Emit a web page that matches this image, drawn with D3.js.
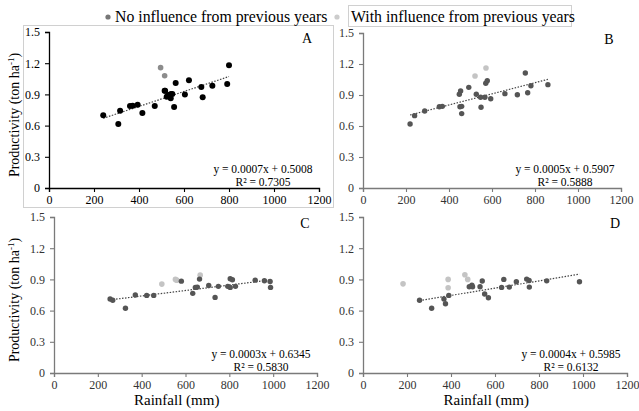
<!DOCTYPE html>
<html>
<head>
<meta charset="utf-8">
<script src="https://cdn.jsdelivr.net/npm/d3@7"></script>
<style>
  body { margin: 0; background: #fff; }
</style>
</head>
<body>
<div id="container"></div>
<script>
var width = 639,
    height = 411,
    serif = 'Liberation Serif, Times New Roman, DejaVu Serif, serif';

// tick values
var xTicks = [0, 200, 400, 600, 800, 1000, 1200];
var yTicks = [0, 0.3, 0.6, 0.9, 1.2, 1.5];

// panel A
var aNoX = [241, 308, 316, 360, 372, 394, 415, 470, 514, 516, 523, 530, 541, 542, 548, 556, 563, 604, 622, 677, 683, 726, 792, 800];
var aNoY = [0.70, 0.615, 0.743, 0.788, 0.79, 0.80, 0.72, 0.788, 0.935, 0.935, 0.878, 0.894, 0.862, 0.904, 0.904, 0.779, 1.01, 0.90, 1.036, 0.971, 0.872, 0.984, 1.0, 1.18];
var aWithX = [496, 514];
var aWithY = [1.157, 1.08];

// panel B
var bNoX = [219, 240, 287, 355, 369, 448, 451, 454, 459, 459, 492, 527, 547, 549, 567, 571, 578, 594, 660, 718, 755, 766, 781, 860];
var bNoY = [0.62, 0.70, 0.745, 0.787, 0.79, 0.907, 0.787, 0.939, 0.79, 0.72, 0.974, 0.907, 0.878, 0.781, 0.878, 1.013, 1.038, 0.864, 0.913, 0.903, 1.113, 0.922, 0.99, 1.0];
var bWithX = [521, 572];
var bWithY = [1.084, 1.161];

// panel C
var cNoX = [256, 268, 326, 371, 423, 455, 581, 633, 645, 654, 664, 706, 735, 750, 793, 804, 804, 814, 828, 918, 960, 986, 988];
var cNoY = [0.711, 0.70, 0.622, 0.75, 0.746, 0.746, 0.883, 0.766, 0.823, 0.826, 0.903, 0.842, 0.727, 0.833, 0.833, 0.823, 0.906, 0.896, 0.833, 0.893, 0.887, 0.88, 0.823];
var cWithX = [492, 554, 560, 667];
var cWithY = [0.855, 0.90, 0.893, 0.941];

// panel D
var dNoX = [257, 312, 368, 375, 390, 483, 495, 498, 532, 542, 553, 570, 630, 640, 665, 697, 744, 755, 756, 835, 984];
var dNoY = [0.70, 0.622, 0.711, 0.666, 0.746, 0.829, 0.845, 0.829, 0.829, 0.884, 0.759, 0.724, 0.823, 0.90, 0.826, 0.877, 0.903, 0.89, 0.826, 0.886, 0.877];
var dWithX = [182, 387, 387, 463, 476];
var dWithY = [0.857, 0.90, 0.82, 0.944, 0.90];

var panels = [
  { label: 'A', noX: aNoX, noY: aNoY, withX: aWithX, withY: aWithY,
    eq: 'y = 0.0007x + 0.5008', r2: 'R² = 0.7305',
    left: 49, right: 319, top: 32, bottom: 188, dark: true, xTitle: false, yTitle: true },
  { label: 'B', noX: bNoX, noY: bNoY, withX: bWithX, withY: bWithY,
    eq: 'y = 0.0005x + 0.5907', r2: 'R² = 0.5888',
    left: 363, right: 621, top: 33, bottom: 188, dark: false, xTitle: false, yTitle: false },
  { label: 'C', noX: cNoX, noY: cNoY, withX: cWithX, withY: cWithY,
    eq: 'y = 0.0003x + 0.6345', r2: 'R² = 0.5830',
    left: 54, right: 317, top: 217, bottom: 373, dark: false, xTitle: true, yTitle: true },
  { label: 'D', noX: dNoX, noY: dNoY, withX: dWithX, withY: dWithY,
    eq: 'y = 0.0004x + 0.5985', r2: 'R² = 0.6132',
    left: 363, right: 627, top: 217, bottom: 373, dark: false, xTitle: true, yTitle: false }
];

var svg = d3.select('#container')
    .append('svg')
    .attr('width', width)
    .attr('height', height)
    .style('font-family', serif);

// frame round panel A
svg.append('rect')
    .attr('x', 23.5).attr('y', 25.5)
    .attr('width', 310).attr('height', 182)
    .attr('fill', 'none')
    .attr('stroke', '#d0d0d0');

// legend
svg.append('circle').attr('cx', 108).attr('cy', 17).attr('r', 2.6).attr('fill', '#777');
svg.append('text').attr('x', 115).attr('y', 22)
    .attr('font-size', 15.8).attr('fill', '#000')
    .style('font-family', serif)
    .text('No influence from previous years');
svg.append('circle').attr('cx', 337).attr('cy', 17).attr('r', 2.6).attr('fill', '#ccc');
svg.append('rect')
    .attr('x', 348.5).attr('y', 5.5)
    .attr('width', 223).attr('height', 21)
    .attr('fill', 'none').attr('stroke', '#d0d0d0');
svg.append('text').attr('x', 351).attr('y', 22)
    .attr('font-size', 15.8).attr('fill', '#000')
    .style('font-family', serif)
    .text('With influence from previous years');

function fit(xs, ys) {
  var mx = d3.mean(xs), my = d3.mean(ys);
  var sxy = d3.sum(xs, function(x, i) { return (x - mx) * (ys[i] - my); });
  var sxx = d3.sum(xs, function(x) { return (x - mx) * (x - mx); });
  var b = sxy / sxx;
  return { b: b, a: my - b * mx };
}

panels.forEach(function(p) {
  var scaleX = d3.scaleLinear().domain([0, 1200]).range([p.left, p.right]);
  var scaleY = d3.scaleLinear().domain([0, 1.5]).range([p.bottom, p.top]);
  var axisColor = p.dark ? '#000' : '#7a7a7a';
  var g = svg.append('g');

  var xAxis = d3.axisBottom(scaleX).tickValues(xTicks).tickSizeOuter(0).tickSize(4).tickPadding(3)
      .tickFormat(d3.format('d'));
  var yAxis = d3.axisLeft(scaleY).tickValues(yTicks).tickSizeOuter(0).tickSize(4).tickPadding(5)
      .tickFormat(function(d) { return d === 0 ? '0' : d3.format('.1f')(d); });

  var gx = g.append('g')
      .attr('transform', 'translate(0,' + p.bottom + ')')
      .call(xAxis);
  var gy = g.append('g')
      .attr('transform', 'translate(' + p.left + ',0)')
      .call(yAxis);
  [gx, gy].forEach(function(ax) {
    ax.attr('font-family', null).attr('font-size', null);
    ax.select('.domain').attr('stroke', axisColor).attr('stroke-width', 1.3);
    ax.selectAll('.tick line').attr('stroke', axisColor).attr('stroke-width', 1.1);
    ax.selectAll('.tick text')
      .attr('fill', p.dark ? '#000' : '#333')
      .attr('font-size', 12)
      .style('font-family', serif);
  });

  // trend line of the points without influence
  var f = fit(p.noX, p.noY);
  var x0 = d3.min(p.noX), x1 = d3.max(p.noX);
  g.append('line')
      .attr('x1', scaleX(x0)).attr('y1', scaleY(f.a + f.b * x0))
      .attr('x2', scaleX(x1)).attr('y2', scaleY(f.a + f.b * x1))
      .attr('stroke', '#444')
      .attr('stroke-width', 1.2)
      .attr('stroke-dasharray', '1.5,1.5');

  g.selectAll('.with')
      .data(p.withX)
      .enter().append('circle')
      .attr('cx', function(d) { return scaleX(d); })
      .attr('cy', function(d, i) { return scaleY(p.withY[i]); })
      .attr('r', 2.8)
      .attr('fill', p.dark ? '#8c8c8c' : '#c4c4c4');

  g.selectAll('.no')
      .data(p.noX)
      .enter().append('circle')
      .attr('cx', function(d) { return scaleX(d); })
      .attr('cy', function(d, i) { return scaleY(p.noY[i]); })
      .attr('r', p.dark ? 3 : 2.7)
      .attr('fill', p.dark ? '#000' : '#555');

  g.append('text')
      .attr('x', p.right - 12).attr('y', p.top + 11)
      .attr('text-anchor', 'middle')
      .attr('font-size', 14)
      .style('font-family', serif)
      .text(p.label);

  g.append('text')
      .attr('x', p.right - 56).attr('y', p.bottom - 15)
      .attr('text-anchor', 'middle')
      .attr('font-size', 11.5)
      .style('font-family', serif)
      .text(p.eq);
  g.append('text')
      .attr('x', p.right - 56).attr('y', p.bottom - 2)
      .attr('text-anchor', 'middle')
      .attr('font-size', 11.5)
      .style('font-family', serif)
      .text(p.r2);

  if (p.yTitle) {
    var t = g.append('text')
        .attr('transform', 'translate(19,' + ((p.top + p.bottom) / 2 + 5) + ') rotate(-90)')
        .attr('text-anchor', 'middle')
        .attr('font-size', 14)
        .attr('fill', '#000')
        .style('font-family', serif);
    t.append('tspan').text('Productivity (ton ha');
    t.append('tspan').attr('dy', -5).attr('font-size', 9).text('-1');
    t.append('tspan').attr('dy', 5).text(')');
  }
  if (p.xTitle) {
    g.append('text')
        .attr('x', scaleX(560)).attr('y', 405)
        .attr('text-anchor', 'middle')
        .attr('font-size', 15)
        .style('font-family', serif)
        .text('Rainfall (mm)');
  }
});
</script>
</body>
</html>
